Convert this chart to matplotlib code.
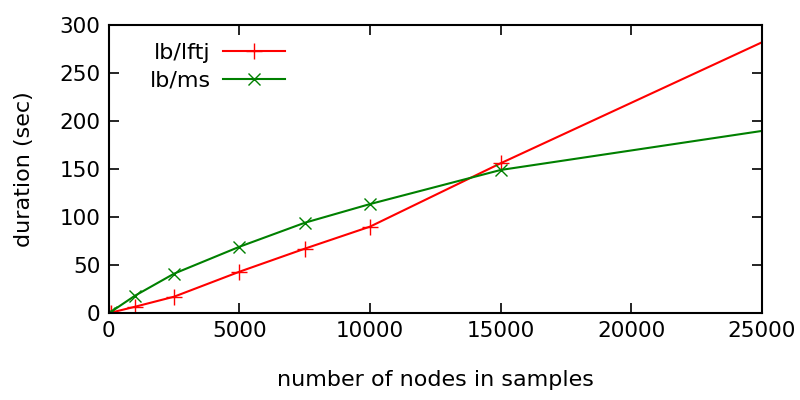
import matplotlib
matplotlib.use("Agg")
import matplotlib.pyplot as plt

nodes = [0, 100, 1000, 2500, 5000, 7500, 10000, 15000, 30000]
lftj = [0, 0.5, 6.5, 17, 43, 67, 90, 156, 345]
ms = [0, 1.5, 18, 41, 69, 94, 113.5, 149, 210]

plt.rcParams['font.family'] = ['DejaVu Sans']
fig = plt.figure(figsize=(8, 4), dpi=100)
ax = fig.add_axes([0.136, 0.2175, 0.8165, 0.72])

ax.plot(nodes, lftj, color='#ff0000', lw=1.5, marker='+', ms=11, mew=1.0,
        markevery=list(range(len(nodes) - 1)), label='lb/lftj')
ax.plot(nodes, ms, color='#008000', lw=1.5, marker='x', ms=9, mew=1.0,
        markevery=list(range(len(nodes) - 1)), label='lb/ms')

ax.set_xlim(0, 25000)
ax.set_ylim(0, 300)
ax.set_xticks([0, 5000, 10000, 15000, 20000, 25000])
ax.set_yticks([0, 50, 100, 150, 200, 250, 300])
ax.tick_params(direction='in', top=True, right=True, length=7, width=1.2,
               labelsize=15.5, pad=6, colors='black')
for s in ax.spines.values():
    s.set_linewidth(1.5)
ax.set_xlabel('number of nodes in samples', fontsize=16, labelpad=21)
ax.set_ylabel('duration (sec)', fontsize=16, labelpad=18)

leg = ax.legend(loc='upper left', markerfirst=False, frameon=False, fontsize=16,
                handlelength=2.8, bbox_to_anchor=(0.035, 1.0), labelspacing=0.35,
                handletextpad=0.55, borderaxespad=0.4)
for t in leg.get_texts():
    t.set_ha('right')

fig.savefig('out.png', dpi=100)
